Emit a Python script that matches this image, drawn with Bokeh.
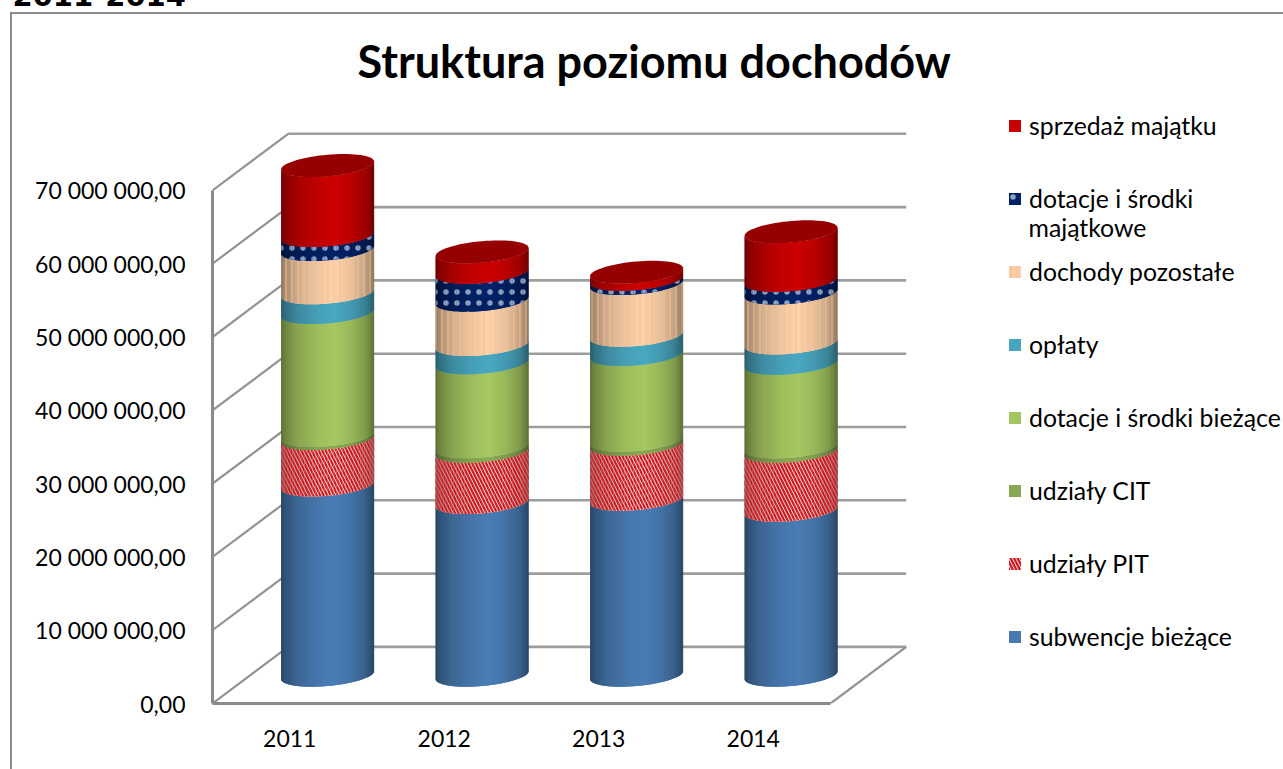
import numpy as np
from bokeh.plotting import figure, ColumnDataSource
from bokeh.models import Legend, LegendItem, Label, FixedTicker, Range1d
from bokeh.embed import file_html
from bokeh.resources import INLINE

years = [2011, 2012, 2013, 2014]
subwencje = [25950000, 23560000, 24010000, 22510000]
pit = [6340000, 7000000, 7500000, 8040000]
cit = [410000, 600000, 550000, 600000]
dotacje_biezace = [16780000, 11460000, 11690000, 11400000]
oplaty = [2690000, 2500000, 2630000, 2780000]
pozostale = [5900000, 6040000, 7050000, 6820000]
dotacje_majatkowe = [1910000, 3820000, 590000, 1720000]
sprzedaz = [9550000, 2760000, 950000, 6620000]
y_ticks = [0, 10000000, 20000000, 30000000, 40000000, 50000000, 60000000, 70000000]
y_labels = ["0,00", "10 000 000,00", "20 000 000,00", "30 000 000,00", "40 000 000,00",
            "50 000 000,00", "60 000 000,00", "70 000 000,00"]
series_names = ["subwencje bieżące", "udziały PIT", "udziały CIT", "dotacje i środki bieżące",
                "opłaty", "dochody pozostałe", "dotacje i środki", "sprzedaż majątku"]
series_values = [subwencje, pit, cit, dotacje_biezace, oplaty, pozostale, dotacje_majatkowe, sprzedaz]
series_colors = ["#4A7DB5", "#F8E2E2", "#8CAA55", "#A6C962", "#4AA8C2", "#FDD3AC", "#002268", "#CC0000"]
series_hatch = [None, "left_diagonal_line", None, None, None, "vertical_line", "dot", None]
hatch_colors = [None, "#CE1A1F", None, None, None, "#F9BE8C", "#8FA4C4", None]
hatch_scales = [None, 7, None, None, None, 6, 11, None]
hatch_weights = [None, 2.2, None, None, None, 1, 0.8, None]

W, H = 1283, 769
LEFT, RIGHT, TOP, BOTTOM = 212, 912, 130, 703
PX_X = 154.5                 # pixels per category
PX_Y = 7.33 / 1e6            # pixels per unit of value
DEPTH_X = 75.7 / PX_X
DEPTH_Y = 56.6 / PX_Y
RX = 46.5 / PX_X
RY = 10.8 / PX_Y
TILT = 4.0 / PX_Y
GRID = "#929292"
CARD = "#8C8C8C"

x_start = years[0] - 0.5
p = figure(width=W, height=H, output_backend="svg", toolbar_location=None,
           frame_width=RIGHT - LEFT, frame_height=BOTTOM - TOP,
           x_range=Range1d(x_start, x_start + (RIGHT - LEFT) / PX_X),
           y_range=Range1d(0, (BOTTOM - TOP) / PX_Y),
           min_border_left=LEFT, min_border_right=W - RIGHT, min_border_top=TOP,
           min_border_bottom=H - BOTTOM, outline_line_color=None,
           title="Struktura poziomu dochodów")
p.border_fill_alpha = 0
p.styles = {
    "background-image": f"linear-gradient({CARD},{CARD}), linear-gradient({CARD},{CARD})",
    "background-size": "2px 100%, 100% 2px",
    "background-position": "10px 12px, 10px 12px",
    "background-repeat": "no-repeat",
}
p.background_fill_color = "white"
p.grid.visible = False

p.title.text_font = "Lato"
p.title.text_font_style = "bold"
p.title.text_font_size = "45px"
p.title.text_color = "black"
p.title.align = "left"
p.title.offset = 145
p.title.standoff = 43

for ax in (p.xaxis[0], p.yaxis[0]):
    ax.major_tick_line_color = None
    ax.minor_tick_line_color = None
    ax.axis_line_color = "#8A8A8A"
    ax.axis_line_width = 3
    ax.major_label_text_font = "Lato"
    ax.major_label_text_font_size = "23px"
    ax.major_label_text_color = "black"
p.xaxis[0].ticker = FixedTicker(ticks=years)
p.xaxis[0].major_label_overrides = {y: str(y) for y in years}
p.xaxis[0].bounds = (x_start, x_start + len(years))
p.xaxis[0].major_label_standoff = 20
p.yaxis[0].ticker = FixedTicker(ticks=y_ticks)
p.yaxis[0].major_label_overrides = dict(zip(y_ticks, y_labels))
p.yaxis[0].bounds = (y_ticks[0], y_ticks[-1])
p.yaxis[0].major_label_standoff = 21

# walls and floor
front_end = x_start + len(years)
back_x0, back_x1 = x_start + DEPTH_X, front_end + DEPTH_X
p.multi_line([[back_x0, back_x1] for _ in y_ticks], [[v + DEPTH_Y] * 2 for v in y_ticks],
             line_color=GRID, line_width=2.6, line_alpha=0.9)
p.multi_line([[x_start, back_x0] for _ in y_ticks], [[v, v + DEPTH_Y] for v in y_ticks],
             line_color=GRID, line_width=2.2)
p.line([front_end, back_x1], [0, DEPTH_Y], line_color=GRID, line_width=2.2)

# cylinders
t = np.linspace(np.pi, 0, 49)
us = np.cos(t)
shade_u = [-1, -0.92, -0.65, -0.2, 0.15, 0.5, 0.8, 0.95, 1]
shade_f = [0.55, 0.66, 0.82, 0.95, 1.0, 0.92, 0.78, 0.62, 0.55]


def shaded(color, f):
    r, g, b = [int(color[i:i + 2], 16) for i in (1, 3, 5)]
    return "#%02x%02x%02x" % (int(r * f), int(g * f), int(b * f))


def front_arc(u):
    return -RY * np.sqrt(np.maximum(1 - u * u, 0)) + TILT * u


base = DEPTH_Y / 2
offset = DEPTH_X / 2
items = []
stack = np.zeros(len(years))
for k, name in enumerate(series_names):
    vals = np.array(series_values[k], dtype=float)
    xs, ys, cs = [], [], []
    for j, yr in enumerate(years):
        cx = yr + offset
        lo, hi = base + stack[j], base + stack[j] + vals[j]
        for i in range(len(us) - 1):
            u0, u1 = us[i], us[min(i + 2, len(us) - 1)]
            a0, a1 = front_arc(u0), front_arc(u1)
            xs.append([cx + RX * u0, cx + RX * u1, cx + RX * u1, cx + RX * u0])
            ys.append([lo + a0, lo + a1, hi + a1, hi + a0])
            cs.append(shaded(series_colors[k], np.interp((us[i] + us[i + 1]) / 2, shade_u, shade_f)))
    src = ColumnDataSource(dict(xs=xs, ys=ys, c=cs))
    kw = dict(fill_color="c", line_color=None)
    if series_hatch[k]:
        kw.update(hatch_pattern=series_hatch[k], hatch_color=hatch_colors[k],
                  hatch_scale=hatch_scales[k], hatch_weight=hatch_weights[k])
    r = p.patches("xs", "ys", source=src, **kw)
    items.append(LegendItem(label=name, renderers=[r], index=24))
    stack += vals

# top caps
theta = np.linspace(0, 2 * np.pi, 73)
cap_x = [list(yr + offset + RX * np.cos(theta)) for yr in years]
cap_y = [list(base + s + RY * np.sin(theta) + TILT * np.cos(theta)) for s in stack]
p.patches(cap_x, cap_y, fill_color="#950000", line_color=None)

legend = Legend(items=list(reversed(items)), location=(95, 52), orientation="vertical",
                glyph_width=15, glyph_height=15, label_height=20, label_standoff=7,
                spacing=44, padding=0, margin=0, border_line_color=None,
                background_fill_alpha=0, label_text_font="Lato", label_text_font_size="24.8px",
                label_text_color="black", click_policy="none")
p.add_layout(legend, "right")

p.add_layout(Label(x=-643, y=476, x_units="screen", y_units="screen", text="majątkowe",
                   text_font="Lato", text_font_size="24.8px", text_color="black",
                   text_baseline="middle"), "right")
# page heading cut by the top edge
p.add_layout(Label(x=-200, y=135, x_units="screen", y_units="screen", text="2011-2014",
                   text_font="DejaVu Sans", text_font_style="bold", text_font_size="29px",
                   text_color="black", text_baseline="alphabetic"), "above")

open("out.html", "w").write(file_html(p, INLINE))
